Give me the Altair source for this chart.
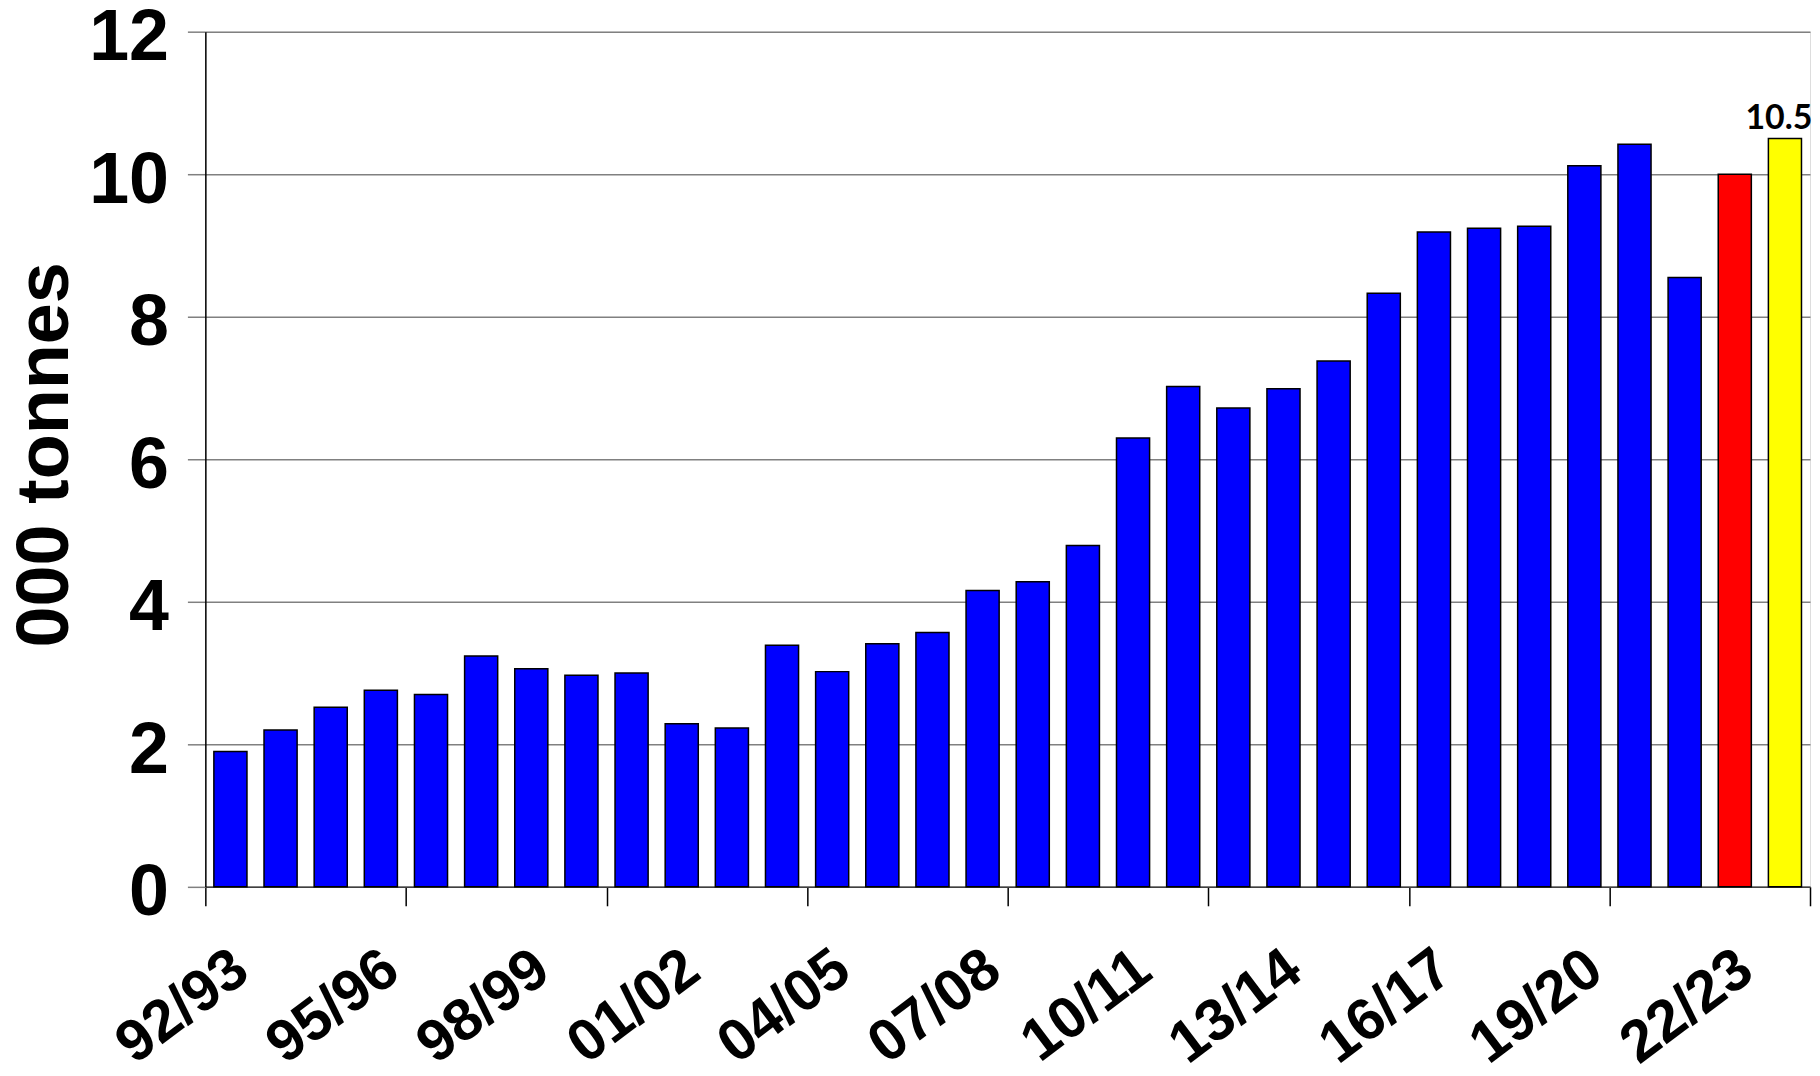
import json
import altair as alt
import pandas as pd

seasons = ["92/93", "93/94", "94/95", "95/96", "96/97", "97/98", "98/99", "99/00",
           "00/01", "01/02", "02/03", "03/04", "04/05", "05/06", "06/07", "07/08",
           "08/09", "09/10", "10/11", "11/12", "12/13", "13/14", "14/15", "15/16",
           "16/17", "17/18", "18/19", "19/20", "20/21", "21/22", "22/23", "23/24"]
values = [1.90, 2.20, 2.52, 2.76, 2.70, 3.24, 3.06, 2.97,
          3.00, 2.29, 2.23, 3.39, 3.02, 3.41, 3.57, 4.16,
          4.28, 4.79, 6.30, 7.02, 6.72, 6.99, 7.38, 8.33,
          9.19, 9.24, 9.27, 10.12, 10.42, 8.55, 10.0, 10.5]
kinds = ["actual"] * 30 + ["estimate", "forecast"]
tick_labels = ["92/93", "95/96", "98/99", "01/02", "04/05", "07/08",
               "10/11", "13/14", "16/17", "19/20", "22/23"]
y_ticks = [0, 2, 4, 6, 8, 10, 12]

df = pd.DataFrame({"season": seasons, "value": values, "kind": kinds,
                   "idx": list(range(len(seasons)))})
df["x0"] = df["idx"] + 0.17
df["x1"] = df["idx"] + 0.83
df["xc"] = df["idx"] + 0.5

n = len(seasons)
label_vals = [seasons.index(s) + 0.5 for s in tick_labels]
tick_vals = list(range(0, n + 1, 4))
x_vals = sorted(set(label_vals + tick_vals))

label_expr = ("(datum.value % 1) != 0 ? " + json.dumps(seasons) +
              "[floor(datum.value)] : ''")

xscale = alt.Scale(domain=[0, n], nice=False, zero=False)
yscale = alt.Scale(domain=[0, 12], nice=False)

x_axis = alt.Axis(
    values=x_vals, labelExpr=label_expr,
    tickOpacity={"condition": {"test": "datum.value % 1 == 0", "value": 1}, "value": 0},
    tickSize=19, tickColor="black", tickWidth=1.5,
    domainColor="#404040", domainWidth=1.5,
    labelAngle=323, labelAlign="right", labelBaseline="top", labelPadding=33,
    labelOffset=-7,
    labelFontSize=59, labelFont="Liberation Sans", labelFontWeight="bold",
    labelColor="black", labelOverlap=False, labelBound=False, labelFlush=False,
    grid=False, title=None,
)
y_axis = alt.Axis(
    values=y_ticks, format="d", tickSize=18, tickColor="#808080", tickWidth=1.5,
    grid=True, gridColor="#808080", gridWidth=1.5,
    domainColor="black", domainWidth=1.5,
    labelFontSize=72, labelFont="Liberation Sans", labelFontWeight="bold",
    labelColor="black", labelPadding=19, labelOffset=6,
    labelOverlap=False, labelBound=False, labelFlush=False,
    title="000 tonnes", titleFontSize=74, titleFont="Liberation Sans",
    titleFontWeight="bold", titleColor="black", titleAngle=270,
    titleX=-138, titleY=424, titleAlign="center", titleBaseline="alphabetic",
)

bars = alt.Chart(df).mark_bar(stroke="black", strokeWidth=1.5).encode(
    x=alt.X("x0:Q", scale=xscale, axis=x_axis),
    x2="x1:Q",
    y=alt.Y("value:Q", scale=yscale, axis=y_axis),
    y2=alt.datum(0),
    color=alt.Color("kind:N",
                    scale=alt.Scale(domain=["actual", "estimate", "forecast"],
                                    range=["#0000FF", "#FF0000", "#FFFF00"]),
                    legend=None),
)

label = alt.Chart(df).transform_filter(alt.datum.kind == "forecast").mark_text(
    font="Lato", fontWeight="bold", fontSize=34, color="black",
    align="center", baseline="alphabetic", dx=-6, dy=-10,
).encode(
    x=alt.X("xc:Q", scale=xscale),
    y=alt.Y("value:Q", scale=yscale),
    text=alt.Text("value:Q", format=".1f"),
)

chart = alt.layer(bars, label).properties(
    width=1610, height=858,
    autosize="none",
    padding={"left": 198, "top": 22, "right": 2, "bottom": 180},
).configure_view(stroke="black", strokeWidth=1.5).configure(background="white")

chart.save("out.html", embed_options={"renderer": "svg", "actions": False})
